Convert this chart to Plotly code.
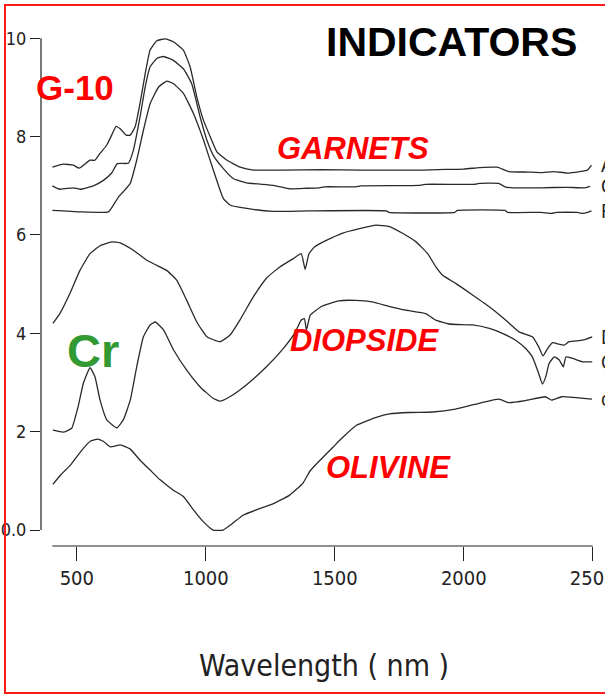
import plotly.graph_objects as go

# ---------------- data ----------------
garnet_a_nm = [405, 447, 486, 509, 551, 570, 590, 616, 635, 652, 668, 691, 707, 726, 745, 765, 784, 810, 843,
               874, 913, 939, 965, 991, 1017, 1043, 1082, 1133, 1185, 1300, 1450, 1600, 1750, 1840, 1900, 2000,
               2060, 2110, 2130, 2175, 2250, 2300, 2350, 2400, 2450, 2480, 2495]
garnet_a_val = [7.38, 7.44, 7.42, 7.36, 7.52, 7.52, 7.66, 7.83, 8.03, 8.21, 8.16, 8.03, 8.03, 8.20, 8.68, 9.28,
                9.76, 9.95, 9.99, 9.93, 9.76, 9.42, 8.81, 8.33, 8.00, 7.69, 7.52, 7.38, 7.32, 7.32, 7.33, 7.32,
                7.32, 7.32, 7.33, 7.34, 7.37, 7.38, 7.38, 7.29, 7.28, 7.27, 7.29, 7.26, 7.29, 7.32, 7.42]

garnet_g_nm = [405, 434, 486, 512, 564, 603, 635, 657, 700, 719, 745, 765, 784, 810, 836, 874, 913, 945, 978,
               1004, 1029, 1068, 1106, 1158, 1262, 1326, 1390, 1440, 1460, 1580, 1600, 1830, 1850, 2040, 2060,
               2135, 2160, 2190, 2300, 2400, 2470, 2490]
garnet_g_val = [7.00, 6.93, 6.96, 6.93, 7.00, 7.11, 7.26, 7.45, 7.46, 7.72, 8.40, 9.01, 9.42, 9.59, 9.63, 9.55,
                9.38, 9.08, 8.40, 7.93, 7.62, 7.35, 7.15, 7.06, 7.01, 6.94, 6.95, 6.96, 6.98, 6.98, 7.00, 7.01,
                7.03, 7.03, 7.05, 7.05, 6.98, 6.96, 6.96, 6.97, 6.96, 6.99]

garnet_p_nm = [405, 512, 622, 642, 661, 680, 707, 732, 758, 784, 817, 849, 874, 913, 952, 991, 1029, 1068, 1094,
               1158, 1262, 1400, 1700, 1710, 1965, 1975, 2160, 2170, 2300, 2340, 2360, 2440, 2460, 2480, 2495]
garnet_p_val = [6.50, 6.47, 6.47, 6.61, 6.77, 6.88, 7.05, 7.52, 8.13, 8.67, 9.01, 9.13, 9.08, 8.88, 8.47, 7.93,
                7.32, 6.74, 6.61, 6.54, 6.48, 6.49, 6.49, 6.46, 6.46, 6.50, 6.50, 6.46, 6.46, 6.44, 6.46, 6.46,
                6.44, 6.46, 6.49]

diopside_nm = [407, 434, 473, 512, 551, 590, 635, 668, 719, 770, 803, 848, 887, 926, 965, 1004, 1055, 1093, 1132,
               1184, 1235, 1287, 1339, 1370, 1385, 1400, 1422, 1467, 1531, 1596, 1660, 1712, 1764, 1815, 1860,
               1892, 1918, 1970, 2034, 2099, 2162, 2214, 2266, 2290, 2307, 2325, 2344, 2369, 2389, 2408, 2460, 2498]
diopside_val = [4.20, 4.40, 4.81, 5.28, 5.62, 5.78, 5.86, 5.84, 5.69, 5.49, 5.40, 5.28, 5.08, 4.67, 4.23, 3.93,
                3.83, 3.96, 4.27, 4.74, 5.12, 5.35, 5.52, 5.62, 5.30, 5.62, 5.76, 5.89, 6.04, 6.13, 6.20, 6.17,
                6.03, 5.86, 5.62, 5.35, 5.18, 5.01, 4.78, 4.54, 4.27, 4.03, 3.93, 3.73, 3.54, 3.69, 3.81, 3.78,
                3.76, 3.83, 3.86, 3.93]

cr_diopside_nm = [407, 447, 480, 505, 525, 551, 570, 590, 616, 655, 680, 707, 732, 758, 784, 804, 836, 875, 926,
                  978, 1028, 1055, 1093, 1157, 1235, 1300, 1344, 1370, 1382, 1390, 1405, 1450, 1515, 1580, 1645,
                  1710, 1775, 1852, 1891, 1943, 2034, 2099, 2150, 2201, 2240, 2266, 2290, 2305, 2318, 2331, 2351,
                  2370, 2386, 2396, 2422, 2461, 2498]
cr_diopside_val = [2.03, 1.99, 2.07, 2.51, 2.98, 3.30, 3.12, 2.64, 2.24, 2.08, 2.24, 2.64, 3.32, 3.93, 4.17, 4.23,
                   4.07, 3.66, 3.25, 2.91, 2.68, 2.62, 2.71, 2.95, 3.32, 3.69, 4.00, 4.27, 4.30, 4.07, 4.37, 4.55,
                   4.66, 4.67, 4.64, 4.55, 4.47, 4.40, 4.27, 4.19, 4.17, 4.10, 4.00, 3.86, 3.69, 3.52, 3.19, 2.97,
                   3.12, 3.39, 3.52, 3.46, 3.32, 3.52, 3.49, 3.42, 3.42]

olivine_nm = [407, 437, 475, 514, 553, 581, 604, 630, 668, 706, 745, 784, 823, 874, 913, 952, 990, 1028, 1067,
              1105, 1144, 1196, 1260, 1325, 1376, 1404, 1443, 1494, 1526, 1584, 1661, 1712, 1789, 1879, 1968,
              2046, 2136, 2175, 2239, 2316, 2341, 2380, 2497]
olivine_val = [0.93, 1.12, 1.32, 1.59, 1.81, 1.85, 1.80, 1.69, 1.73, 1.65, 1.42, 1.22, 1.02, 0.81, 0.68, 0.41,
               0.17, 0.00, 0.00, 0.14, 0.30, 0.41, 0.53, 0.71, 0.95, 1.20, 1.42, 1.69, 1.86, 2.13, 2.29, 2.36,
               2.39, 2.40, 2.46, 2.56, 2.66, 2.59, 2.63, 2.71, 2.64, 2.71, 2.66]

series_names = ["Almandine", "Grossular", "Pyrope", "Diopside", "Cr-Diopside", "olivine"]
x_tick_vals = [500, 1000, 1500, 2000, 2500]
x_tick_text = ["500", "1000", "1500", "2000", "2500"]
y_tick_vals = [0, 2, 4, 6, 8, 10]
y_tick_text = ["0.0", "2", "4", "6", "8", "10"]

# ---------------- figure ----------------
TICK_FONT = "Liberation Sans Narrow, DejaVu Sans Condensed, Liberation Sans, sans-serif"
BOLD_FONT = "Liberation Sans, Arial, sans-serif"
LINE_COLOR = "#2a2a2a"

series = [
    (garnet_a_nm, garnet_a_val),
    (garnet_g_nm, garnet_g_val),
    (garnet_p_nm, garnet_p_val),
    (diopside_nm, diopside_val),
    (cr_diopside_nm, cr_diopside_val),
    (olivine_nm, olivine_val),
]

fig = go.Figure()
for name, (xs, ys) in zip(series_names, series):
    fig.add_trace(go.Scatter(x=xs, y=ys, mode="lines", name=name,
                             line=dict(color=LINE_COLOR, width=1.3, shape="spline", smoothing=0.4),
                             showlegend=False, cliponaxis=False))

# right-hand (clipped by the image edge in the reference) series labels
for name, (xs, ys) in zip(series_names, series):
    fig.add_annotation(x=1.010, xref="paper", y=ys[-1], yref="y", text=name, showarrow=False,
                       xanchor="left", yanchor="middle",
                       font=dict(family=TICK_FONT, size=19, color="#222"))

# axis lines (y axis from 0 to 10, x axis from 400 to 2500)
fig.add_shape(type="line", xref="paper", yref="y", x0=0, x1=0, y0=0, y1=10,
              line=dict(color="#222", width=1.2))
fig.add_shape(type="line", xref="x", yref="paper", x0=405, x1=2500, y0=0, y1=0,
              line=dict(color="#222", width=1.2))

# red frame around the slide image
fig.add_shape(type="rect", xref="paper", yref="paper",
              x0=-0.0652, x1=1.05, y0=-0.2795, y1=1.0285,
              line=dict(color="#ff1a1a", width=2), fillcolor="rgba(0,0,0,0)")


def label(x, y, text, size, color, family=BOLD_FONT):
    fig.add_annotation(x=x, xref="paper", y=y, yref="paper", text=text, showarrow=False,
                       xanchor="center", yanchor="middle",
                       font=dict(family=family, size=size, color=color))


label(0.744, 0.9575, "<b>INDICATORS</b>", 41, "#000")
label(0.0616, 0.871, "<b>G-10</b>", 35, "#ff0000")
label(0.095, 0.3726, "<b>Cr</b>", 47, "#339933")
label(0.5649, 0.7557, "<b><i>GARNETS</i></b>", 31, "#ff0000")
label(0.5858, 0.390, "<b><i>DIOPSIDE</i></b>", 31, "#ff0000")
label(0.6292, 0.1483, "<b><i>OLIVINE</i></b>", 31, "#ff0000")
label(0.5124, -0.228, "Wavelength ( nm )", 30, "#222", TICK_FONT)

fig.update_xaxes(range=[361, 2501], tickvals=x_tick_vals, ticktext=x_tick_text,
                 ticks="outside", ticklen=14, tickwidth=1.2, tickcolor="#222",
                 showline=False, showgrid=False, zeroline=False, automargin=False,
                 ticklabeloverflow="allow",
                 tickfont=dict(family=TICK_FONT, size=20, color="#222"))
fig.update_yaxes(range=[-0.325, 10.372], tickvals=y_tick_vals, ticktext=y_tick_text,
                 ticks="outside", ticklen=10, tickwidth=1.2, tickcolor="#222",
                 showline=False, showgrid=False, zeroline=False, automargin=False,
                 ticklabeloverflow="allow",
                 tickfont=dict(family=TICK_FONT, size=18, color="#222"))

fig.update_layout(width=605, height=696,
                  margin=dict(l=41, r=12, t=20, b=150, autoexpand=False),
                  paper_bgcolor="white", plot_bgcolor="white",
                  showlegend=False)

fig.write_html("out.html")
